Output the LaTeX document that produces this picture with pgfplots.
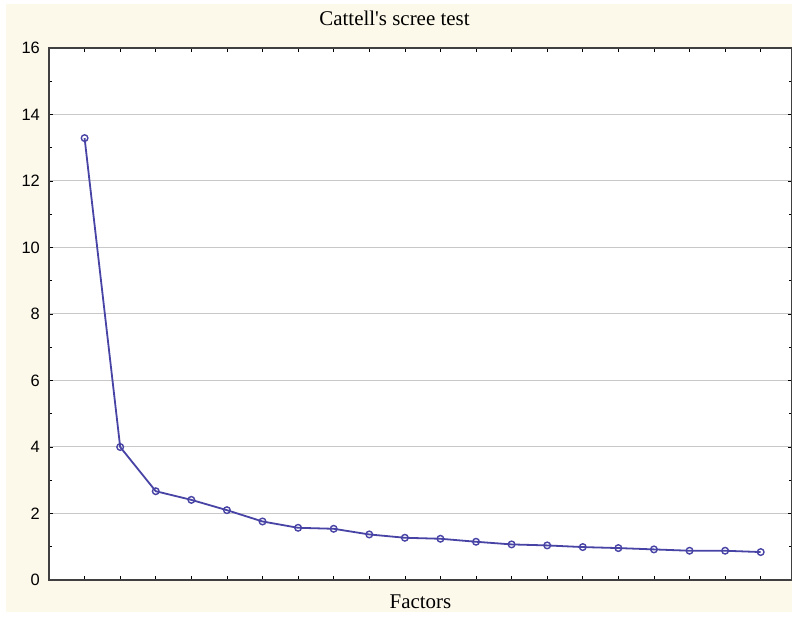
\documentclass[border=0pt]{standalone}
\usepackage{fontspec}
\setmainfont{Liberation Serif}
\newfontfamily\arial{Liberation Sans}
\usepackage{pgfplots}
\pgfplotsset{compat=1.18}
\definecolor{cream}{RGB}{252,248,234}
\definecolor{screeblue}{RGB}{72,68,165}
\definecolor{gridgray}{RGB}{200,200,200}
\begin{document}
\begin{tikzpicture}[x=1bp,y=1bp]
\fill[white] (0,0) rectangle (792,617);
\fill[cream] (6,5) rectangle (792,613);
\begin{axis}[
    at={(49bp,37bp)}, anchor=south west,
    scale only axis,
    width=743bp, height=532bp,
    xmin=0, xmax=20.88,
    ymin=0, ymax=16,
    xtick={1,...,20},
    xticklabels={},
    ytick={0,2,...,16},
    minor y tick num=1,
    tick align=inside,
    major tick length=4bp,
    minor tick length=3bp,
    every tick/.style={black, line width=0.6bp},
    ymajorgrids=true,
    grid style={gridgray, line width=1bp},
    axis line style={black!75, line width=1.2bp},
    axis background/.style={fill=white},
    /pgf/number format/assume math mode=true,
    ticklabel style={font=\arial\fontsize{16.5}{18}\selectfont},
    yticklabel style={inner sep=0pt, xshift=-9bp},
    title={Cattell\textquotesingle s scree test},
    title style={font=\fontsize{21}{24}\selectfont, anchor=base, at={(0.5,1)}, yshift=17bp, xshift=-26bp},
    xlabel={Factors},
    xlabel style={font=\fontsize{21}{24}\selectfont, anchor=base, at={(0.5,0)}, yshift=-29bp},
]
\addplot[color=screeblue, line width=1.8bp, mark=o, mark size=3.3bp,
    mark options={line width=1.4bp, fill=white}] coordinates {
    (1,13.29) (2,4.00) (3,2.67) (4,2.41) (5,2.10)
    (6,1.76) (7,1.57) (8,1.54) (9,1.37) (10,1.27)
    (11,1.24) (12,1.15) (13,1.07) (14,1.04) (15,0.99)
    (16,0.96) (17,0.92) (18,0.88) (19,0.88) (20,0.84)
};
\end{axis}
\pgfresetboundingbox
\useasboundingbox (0,0) rectangle (792,617);
\end{tikzpicture}
\end{document}
